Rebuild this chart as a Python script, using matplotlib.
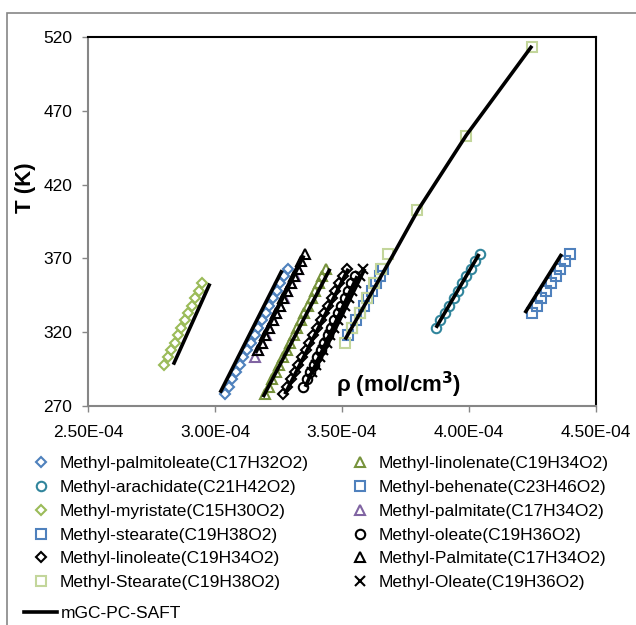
import matplotlib.pyplot as plt
from matplotlib.lines import Line2D
from matplotlib.patches import Rectangle

plt.rcParams['font.family'] = ['Liberation Sans', 'DejaVu Sans']

# measured data: temperature (K) and molar density (1e-4 mol/cm3)
T_palmitoleate = [278, 283, 288, 293, 298, 303, 308, 313, 318, 323, 328, 333, 338, 343, 348, 353, 358, 363]
rho_palmitoleate = [3.039, 3.054, 3.068, 3.083, 3.098, 3.112, 3.127, 3.141, 3.156, 3.170, 3.185, 3.199,
                    3.214, 3.228, 3.243, 3.257, 3.272, 3.287]

T_linolenate = [278, 283, 288, 293, 298, 303, 308, 313, 318, 323, 328, 333, 338, 343, 348, 353, 358, 363]
rho_linolenate = [3.197, 3.211, 3.225, 3.239, 3.253, 3.267, 3.282, 3.296, 3.310, 3.324, 3.338, 3.352,
                  3.366, 3.380, 3.394, 3.409, 3.423, 3.437]

T_arachidate = [323, 328, 333, 338, 343, 348, 353, 358, 363, 368, 373]
rho_arachidate = [3.870, 3.887, 3.904, 3.922, 3.939, 3.956, 3.973, 3.990, 4.008, 4.025, 4.043]

T_behenate = [333, 338, 343, 348, 353, 358, 363, 368, 373]
rho_behenate = [4.247, 4.266, 4.285, 4.304, 4.323, 4.341, 4.360, 4.379, 4.398]

T_myristate = [298, 303, 308, 313, 318, 323, 328, 333, 338, 343, 348, 353]
rho_myristate = [2.800, 2.814, 2.827, 2.841, 2.854, 2.868, 2.882, 2.895, 2.909, 2.923, 2.936, 2.950]

T_palmitate = [303, 308, 313, 318, 323, 328, 333, 338, 343, 348, 353, 358, 363]
rho_palmitate = [3.157, 3.171, 3.185, 3.199, 3.214, 3.228, 3.242, 3.256, 3.270, 3.284, 3.299, 3.313, 3.327]

T_stearate = [318, 323, 328, 333, 338, 343, 348, 353, 358, 363]
rho_stearate = [3.525, 3.540, 3.556, 3.571, 3.586, 3.602, 3.617, 3.632, 3.648, 3.663]

T_oleate = [283, 288, 293, 298, 303, 308, 313, 318, 323, 328, 333, 338, 343, 348, 353, 358]
rho_oleate = [3.348, 3.362, 3.375, 3.389, 3.402, 3.416, 3.429, 3.443, 3.456, 3.470, 3.483, 3.497,
              3.510, 3.524, 3.537, 3.551]

T_linoleate = [278, 283, 288, 293, 298, 303, 308, 313, 318, 323, 328, 333, 338, 343, 348, 353, 358, 363]
rho_linoleate = [3.269, 3.284, 3.298, 3.313, 3.328, 3.342, 3.357, 3.372, 3.386, 3.401, 3.416, 3.430,
                 3.445, 3.460, 3.474, 3.489, 3.504, 3.518]

T_Palmitate = [308, 313, 318, 323, 328, 333, 338, 343, 348, 353, 358, 363, 368, 373]
rho_Palmitate = [3.170, 3.184, 3.198, 3.212, 3.227, 3.241, 3.255, 3.269, 3.283, 3.298, 3.312, 3.326, 3.340, 3.354]

T_Stearate = [313, 323, 333, 343, 353, 363, 373, 403, 453, 513]
rho_Stearate = [3.512, 3.540, 3.569, 3.597, 3.625, 3.654, 3.682, 3.794, 3.988, 4.248]

T_Oleate = [293, 298, 303, 308, 313, 318, 323, 328, 333, 338, 343, 348, 353, 358, 363]
rho_Oleate = [3.383, 3.397, 3.412, 3.426, 3.440, 3.454, 3.469, 3.483, 3.497, 3.512, 3.526, 3.540,
              3.554, 3.569, 3.583]

# mGC-PC-SAFT curves
saft_lines = [
    ([2.836, 2.980], [298, 353]),
    ([3.020, 3.264], [279, 362]),
    ([3.160, 3.350], [306, 372]),
    ([3.189, 3.453], [276, 363]),
    ([3.275, 3.525], [278, 363]),
    ([3.355, 3.560], [283, 358]),
    ([3.390, 3.590], [293, 363]),
    ([3.512, 3.700, 3.800, 3.990, 4.248], [315, 372, 403, 453.6, 514]),
    ([3.870, 4.040], [323, 373]),
    ([4.220, 4.365], [333, 373]),
]

blue = '#4F81BD'
series = [
    ('Methyl-palmitoleate(C17H32O2)', T_palmitoleate, rho_palmitoleate, 'D', blue),
    ('Methyl-linolenate(C19H34O2)', T_linolenate, rho_linolenate, '^', '#77933C'),
    ('Methyl-arachidate(C21H42O2)', T_arachidate, rho_arachidate, 'o', '#31859C'),
    ('Methyl-behenate(C23H46O2)', T_behenate, rho_behenate, 's', blue),
    ('Methyl-myristate(C15H30O2)', T_myristate, rho_myristate, 'D', '#9BBB59'),
    ('Methyl-palmitate(C17H34O2)', T_palmitate, rho_palmitate, '^', '#8064A2'),
    ('Methyl-stearate(C19H38O2)', T_stearate, rho_stearate, 's', blue),
    ('Methyl-oleate(C19H36O2)', T_oleate, rho_oleate, 'o', 'black'),
    ('Methyl-linoleate(C19H34O2)', T_linoleate, rho_linoleate, 'D', 'black'),
    ('Methyl-Palmitate(C17H34O2)', T_Palmitate, rho_Palmitate, '^', 'black'),
    ('Methyl-Stearate(C19H38O2)', T_Stearate, rho_Stearate, 's', '#C3D69B'),
    ('Methyl-Oleate(C19H36O2)', T_Oleate, rho_Oleate, 'x', 'black'),
]

fig = plt.figure(figsize=(6.36, 6.25), dpi=100)
ax = fig.add_axes([88 / 636, 1 - 406 / 625, 508 / 636, 369 / 625])

handles = []
for label, T, rho, m, c in series:
    x = [r * 1e-4 for r in rho]
    ms = 5.2 if m == 'D' else 6.8
    h, = ax.plot(x, T, linestyle='none', marker=m, markersize=ms, markerfacecolor='none',
                 markeredgecolor=c, markeredgewidth=1.5, label=label, zorder=3)
    handles.append(h)

for rho, T in saft_lines:
    ax.plot([r * 1e-4 for r in rho], T, color='black', lw=2.6, solid_capstyle='butt', zorder=4)

ax.set_xlim(2.5e-4, 4.5e-4)
ax.set_ylim(270, 520)
ax.set_xticks([2.5e-4, 3.0e-4, 3.5e-4, 4.0e-4, 4.5e-4])
ax.set_xticklabels(['2.50E-04', '3.00E-04', '3.50E-04', '4.00E-04', '4.50E-04'])
ax.set_yticks([270, 320, 370, 420, 470, 520])
ax.tick_params(axis='both', direction='out', length=4.5, width=1, color='#868686',
               labelsize=12.5)
ax.tick_params(axis='x', pad=9)
ax.tick_params(axis='y', pad=7)
for s in ['left', 'bottom']:
    ax.spines[s].set_color('#868686')
    ax.spines[s].set_linewidth(1.5)
for s in ['top', 'right']:
    ax.spines[s].set_color('black')
    ax.spines[s].set_linewidth(1.5)

fig.text(25 / 636, 1 - 188 / 625, 'T (K)', rotation=90, fontsize=16, fontweight='bold',
         ha='center', va='center')
ax.text(3.724e-4, 284.5, 'ρ (mol/cm$^\\mathbf{3}$)', fontsize=16, fontweight='bold',
        ha='center', va='center')

# legend: two columns of markers, then the model line
col1 = [handles[i] for i in (0, 2, 4, 6, 8, 10)]
col2 = [handles[i] for i in (1, 3, 5, 7, 9, 11)]
leg_kw = dict(loc='upper left', frameon=False, fontsize=12.5, handlelength=1.0,
              handletextpad=0.6, labelspacing=0.5, borderpad=0, borderaxespad=0)
fig.legend(handles=col1, labels=[h.get_label() for h in col1],
           bbox_to_anchor=(32 / 636, 1 - 456 / 625), **leg_kw)
fig.legend(handles=col2, labels=[h.get_label() for h in col2],
           bbox_to_anchor=(351 / 636, 1 - 456 / 625), **leg_kw)
line_h = Line2D([], [], color='black', lw=2.6)
fig.legend(handles=[line_h], labels=['mGC-PC-SAFT'], loc='upper left', frameon=False,
           fontsize=12.5, handlelength=1.9, handletextpad=0.23, borderpad=0, borderaxespad=0,
           bbox_to_anchor=(24 / 636, 1 - 606 / 625))

fig.patches.append(Rectangle((7 / 636, -0.2), 2.0, 1.2 - 13 / 625, transform=fig.transFigure,
                             fill=False, edgecolor='#868686', lw=1.2))

fig.savefig('out.png', dpi=100)
